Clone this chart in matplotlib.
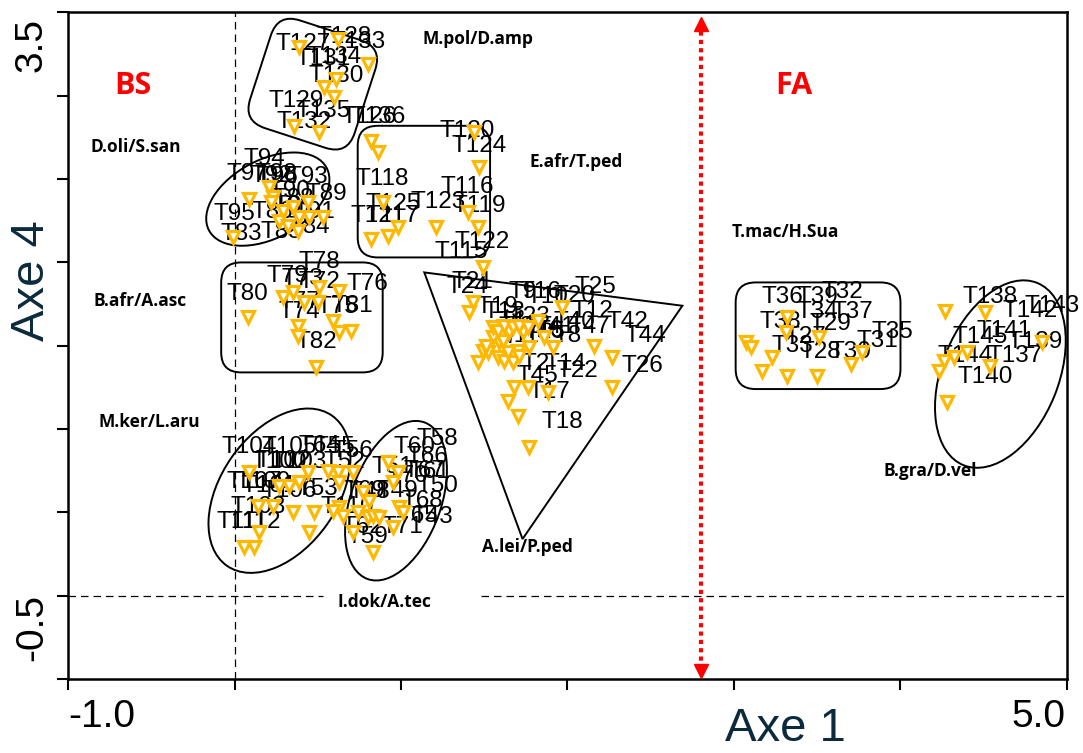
import numpy as np
import matplotlib
matplotlib.use("Agg")
import matplotlib.pyplot as plt
from matplotlib.patches import Ellipse, FancyBboxPatch, Polygon
from matplotlib.transforms import Affine2D

# site scores (Axe 1, Axe 4)
site_x = [0.39, 0.62, 0.80, 0.54, 0.61, 0.60, 0.36, 0.51,
          0.09, 0.21, 0.23, 0.22, 0.27, 0.32, 0.39, 0.45, 0.53, 0.44, 0.38, -0.01, 0.35, 0.29,
          0.82, 0.86, 1.44, 1.47, 1.40, 1.46, 1.21, 0.98, 0.92, 0.82, 0.89,
          0.08, 0.29, 0.35, 0.42, 0.51, 0.63, 0.50, 0.59, 0.63, 0.70, 0.38, 0.38, 0.49,
          1.49, 1.41, 1.43, 1.46, 1.64, 1.70, 1.77, 1.68, 1.76, 1.88, 1.91, 1.97, 2.16, 2.27,
          2.27, 1.49, 1.52, 1.58, 1.62, 1.70, 1.77, 1.59, 1.55, 1.61, 1.65, 1.73, 1.82, 1.55,
          1.58, 1.62, 1.67, 1.71, 1.76, 1.86, 1.51, 1.64, 1.67, 1.71,
          0.09, 0.27, 0.33, 0.39, 0.44, 0.56, 0.62, 0.71, 0.14, 0.23, 0.35, 0.48, 0.45, 0.15,
          0.06, 0.12, 0.63,
          0.92, 0.98, 0.95, 0.77, 0.81, 0.63, 0.65, 0.74, 0.80, 0.83, 0.87, 0.99, 1.01, 0.95,
          0.83, 0.71, 0.59,
          3.07, 3.10, 3.23, 3.17, 3.32, 3.50, 3.32, 3.31, 3.51, 3.70, 3.77,
          4.27, 4.51, 4.85, 4.40, 4.32, 4.26, 4.23, 4.54, 4.28]
site_y = [3.29, 3.34, 3.19, 3.05, 3.10, 2.99, 2.82, 2.78,
          2.38, 2.45, 2.39, 2.36, 2.25, 2.22, 2.27, 2.27, 2.27, 2.36, 2.19, 2.15, 2.33, 2.31,
          2.73, 2.66, 2.78, 2.57, 2.30, 2.21, 2.21, 2.21, 2.16, 2.14, 2.36,
          1.67, 1.79, 1.82, 1.76, 1.85, 1.83, 1.76, 1.65, 1.58, 1.59, 1.62, 1.56, 1.37,
          1.97, 1.70, 1.76, 1.40, 1.17, 1.08, 0.89, 1.25, 1.25, 1.22, 1.49, 1.73, 1.50, 1.43,
          1.25, 1.47, 1.46, 1.43, 1.41, 1.47, 1.49, 1.52, 1.55, 1.53, 1.58, 1.58, 1.65, 1.61,
          1.59, 1.62, 1.61, 1.62, 1.61, 1.55, 1.50, 1.46, 1.40, 1.44,
          0.74, 0.66, 0.66, 0.68, 0.74, 0.75, 0.74, 0.74, 0.54, 0.54, 0.50, 0.50, 0.38, 0.38,
          0.29, 0.29, 0.68,
          0.80, 0.74, 0.68, 0.62, 0.57, 0.53, 0.48, 0.50, 0.47, 0.48, 0.47, 0.53, 0.50, 0.41,
          0.26, 0.38, 0.51,
          1.52, 1.49, 1.43, 1.35, 1.32, 1.32, 1.67, 1.58, 1.55, 1.39, 1.46,
          1.71, 1.70, 1.52, 1.46, 1.43, 1.41, 1.35, 1.38, 1.16]

# site names and where they are written
site_names = ["T127", "T128", "T133", "T131", "T134", "T130", "T129", "T135", "T132", "T126", "T136",
              "T94", "T97", "T92", "T96", "T98", "T93", "T90", "T88", "T89", "T87", "T91", "T95",
              "T86", "T85", "T84", "T83",
              "T120", "T124", "T118", "T116", "T119", "T123", "T125", "T121", "T117", "T122", "T115",
              "T78", "T79", "T73", "T72", "T76", "T80", "T77", "T74", "T75", "T81", "T82",
              "T21", "T24", "T19", "T13", "T9", "T16", "T10", "T20", "T25", "T12", "T42", "T44",
              "T47", "T40", "T8", "T23", "T1", "T3", "T4", "T5", "T6", "T7", "T11", "T15", "T41",
              "T2", "T14", "T22", "T45", "T17", "T18", "T26",
              "T104", "T105", "T102", "T100", "T103", "T64", "T55", "T56", "T52", "T107", "T109",
              "T101", "T106", "T53", "T108", "T111", "T112", "T110",
              "T58", "T60", "T66", "T51", "T61", "T67", "T70", "T50", "T49", "T68", "T69", "T48",
              "T62", "T59", "T71", "T65", "T43",
              "T36", "T39", "T32", "T34", "T37", "T38", "T29", "T27", "T33", "T28", "T30", "T35", "T31",
              "T138", "T142", "T143", "T141", "T145", "T139", "T144", "T137", "T140"]
name_x = [0.41, 0.66, 0.74, 0.53, 0.60, 0.61, 0.37, 0.53, 0.42, 0.81, 0.86,
          0.18, 0.08, 0.22, 0.26, 0.25, 0.44, 0.33, 0.35, 0.55, 0.36, 0.48, 0.00,
          0.23, 0.28, 0.45, 0.04,
          1.40, 1.47, 0.89, 1.40, 1.47, 1.22, 0.95, 0.86, 0.95, 1.49, 1.36,
          0.51, 0.32, 0.41, 0.51, 0.80, 0.08, 0.39, 0.39, 0.62, 0.71, 0.49,
          1.43, 1.40, 1.58, 1.62, 1.73, 1.84, 1.88, 2.04, 2.17, 2.15, 2.36, 2.47,
          2.13, 2.04, 2.00, 1.77, 1.67, 1.71, 1.77, 1.83, 1.89, 1.62, 1.71, 1.86, 1.92,
          1.81, 1.99, 2.06, 1.82, 1.89, 1.97, 2.45,
          0.09, 0.33, 0.29, 0.27, 0.39, 0.51, 0.60, 0.71, 0.66, 0.12, 0.17,
          0.21, 0.33, 0.50, 0.14, 0.05, 0.12, 0.68,
          1.22, 1.08, 1.16, 0.95, 1.17, 1.14, 1.04, 1.22, 0.98, 1.13, 0.78, 0.81,
          0.77, 0.80, 1.01, 1.10, 1.19,
          3.29, 3.50, 3.65, 3.50, 3.71, 3.28, 3.58, 3.43, 3.35, 3.52, 3.70, 3.95, 3.86,
          4.54, 4.78, 4.91, 4.62, 4.48, 4.81, 4.39, 4.69, 4.51]
name_y = [3.31, 3.35, 3.32, 3.22, 3.23, 3.12, 2.97, 2.91, 2.84, 2.87, 2.87,
          2.62, 2.53, 2.52, 2.51, 2.53, 2.51, 2.43, 2.38, 2.41, 2.34, 2.30, 2.29,
          2.30, 2.18, 2.21, 2.17,
          2.79, 2.70, 2.50, 2.45, 2.34, 2.36, 2.35, 2.28, 2.28, 2.12, 2.06,
          2.00, 1.92, 1.90, 1.88, 1.87, 1.81, 1.76, 1.70, 1.73, 1.74, 1.52,
          1.88, 1.85, 1.73, 1.70, 1.82, 1.82, 1.79, 1.80, 1.85, 1.71, 1.64, 1.56,
          1.61, 1.64, 1.56, 1.67, 1.64, 1.61, 1.59, 1.61, 1.59, 1.55, 1.56, 1.58, 1.61,
          1.39, 1.39, 1.35, 1.32, 1.22, 1.04, 1.38,
          0.89, 0.89, 0.81, 0.80, 0.80, 0.90, 0.89, 0.87, 0.80, 0.68, 0.68,
          0.66, 0.63, 0.64, 0.53, 0.44, 0.44, 0.53,
          0.94, 0.89, 0.83, 0.77, 0.74, 0.75, 0.72, 0.66, 0.63, 0.57, 0.63, 0.62,
          0.41, 0.35, 0.41, 0.48, 0.47,
          1.79, 1.79, 1.82, 1.70, 1.70, 1.64, 1.63, 1.55, 1.50, 1.46, 1.46, 1.58, 1.53,
          1.79, 1.71, 1.74, 1.59, 1.55, 1.52, 1.44, 1.44, 1.31]

# species pairs written beside each group
group_names = ["M.pol/D.amp", "D.oli/S.san", "E.afr/T.ped", "T.mac/H.Sua", "B.afr/A.asc",
               "M.ker/L.aru", "B.gra/D.vel", "A.lei/P.ped", "I.dok/A.tec"]
group_x = [1.46, -0.59, 2.05, 3.31, -0.57, -0.51, 4.18, 1.76, 0.90]
group_y = [3.34, 2.69, 2.60, 2.18, 1.77, 1.04, 0.75, 0.29, -0.04]

zone_names = ["BS", "FA"]
zone_x = [-0.61, 3.36]
zone_y = [3.06, 3.06]

split_x = 2.80

fig = plt.figure(figsize=(10.83, 7.53), dpi=100)
ax = fig.add_axes([0.0628, 0.0983, 0.9224, 0.8851])
ax.set_xlim(-1, 5)
ax.set_ylim(-0.5, 3.5)

for side in ax.spines.values():
    side.set_linewidth(1.8)

# reference lines through the origin
dash = (0, (6, 4))
ax.axvline(0, color="black", lw=0.9, ls=dash, zorder=1)
gap_left, gap_right = 0.53, 1.48
ax.plot([-1, gap_left], [0, 0], color="black", lw=0.9, ls=dash, zorder=1)
ax.plot([gap_right, 5], [0, 0], color="black", lw=0.9, ls=dash, zorder=1)

# group outlines
outline = dict(fill=False, edgecolor="black", lw=1.4, zorder=2)
cx, cy, w, h = 0.47, 3.07, 0.66, 0.68
rbox = FancyBboxPatch((cx - w / 2, cy - h / 2), w, h,
                      boxstyle="round,pad=0,rounding_size=0.14", **outline)
rbox.set_transform(Affine2D().rotate_deg_around(cx, cy, -18) + ax.transData)
ax.add_patch(rbox)

for (x0, y0, x1, y1) in [(0.74, 2.03, 1.535, 2.82),
                         (-0.08, 1.34, 0.89, 2.00),
                         (3.01, 1.24, 4.00, 1.88)]:
    ax.add_patch(FancyBboxPatch((x0, y0), x1 - x0, y1 - y0,
                                boxstyle="round,pad=0,rounding_size=0.12", **outline))

for (ex, ey, ew, eh, ang) in [(0.20, 2.38, 0.80, 0.47, 28),
                              (0.27, 0.63, 1.10, 0.70, 55),
                              (0.97, 0.57, 1.00, 0.54, 70),
                              (4.60, 1.33, 1.18, 0.70, 68)]:
    ax.add_patch(Ellipse((ex, ey), ew, eh, angle=ang, **outline))

ax.add_patch(Polygon([(1.14, 1.94), (2.69, 1.74), (1.73, 0.34)], closed=True, **outline))

# site labels, then the markers on top of them
for name, x, y in zip(site_names, name_x, name_y):
    ax.text(x, y, name, ha="center", va="center", fontsize=17.5,
            family="Liberation Sans", zorder=3, clip_on=False)

ax.plot(site_x, site_y, ls="none", marker="v", ms=8.5, mfc="white",
        mec="#FFB800", mew=2.3, zorder=4)

for name, x, y in zip(group_names, group_x, group_y):
    ax.text(x, y, name, ha="center", va="center", fontsize=12.5,
            family="Open Sans", weight="bold", zorder=5)

for name, x, y in zip(zone_names, zone_x, zone_y):
    ax.text(x, y, name, ha="center", va="center", fontsize=22,
            family="Open Sans", weight="bold", color="red", zorder=5)

# dotted split between the two zones
ax.plot([split_x, split_x], [-0.44, 3.42], color="red", lw=3, ls=(0, (1, 1)), zorder=5)
ax.plot([split_x], [3.43], marker="^", ms=10, color="red", zorder=6, clip_on=False)
ax.plot([split_x], [-0.45], marker="v", ms=10, color="red", zorder=6, clip_on=False)

# ticks: only the ends are labelled
ax.set_xticks([-1, 5])
ax.set_xticks([0, 1, 2, 3, 4], minor=True)
ax.set_yticks([-0.5, 3.5])
ax.set_yticks(np.arange(0, 3.5, 0.5), minor=True)
ax.tick_params(which="both", direction="out", length=8, width=1.5,
               labelbottom=False, labelleft=False)

tick_font = dict(fontsize=28, family="Liberation Sans")
ax.annotate("-1.0", xy=(-1, 0), xycoords=("data", "axes fraction"), xytext=(0, -20),
            textcoords="offset pixels", ha="left", va="top", **tick_font)
ax.annotate("5.0", xy=(5, 0), xycoords=("data", "axes fraction"), xytext=(-2, -20),
            textcoords="offset pixels", ha="right", va="top", **tick_font)
ax.annotate("3.5", xy=(0, 3.5), xycoords=("axes fraction", "data"), xytext=(-18, -6),
            textcoords="offset pixels", ha="right", va="top", rotation=90, **tick_font)
ax.annotate("-0.5", xy=(0, -0.5), xycoords=("axes fraction", "data"), xytext=(-18, 18),
            textcoords="offset pixels", ha="right", va="bottom", rotation=90, **tick_font)

fig.text(0.725, 0.003, "Axe 1", ha="center", va="bottom", fontsize=34,
         family="Liberation Sans", color="#0b2a3c")
fig.text(0.0295, 0.627, "Axe 4", ha="center", va="center", fontsize=34,
         family="Liberation Sans", color="#0b2a3c", rotation=90)

fig.savefig("out.png", dpi=100)
